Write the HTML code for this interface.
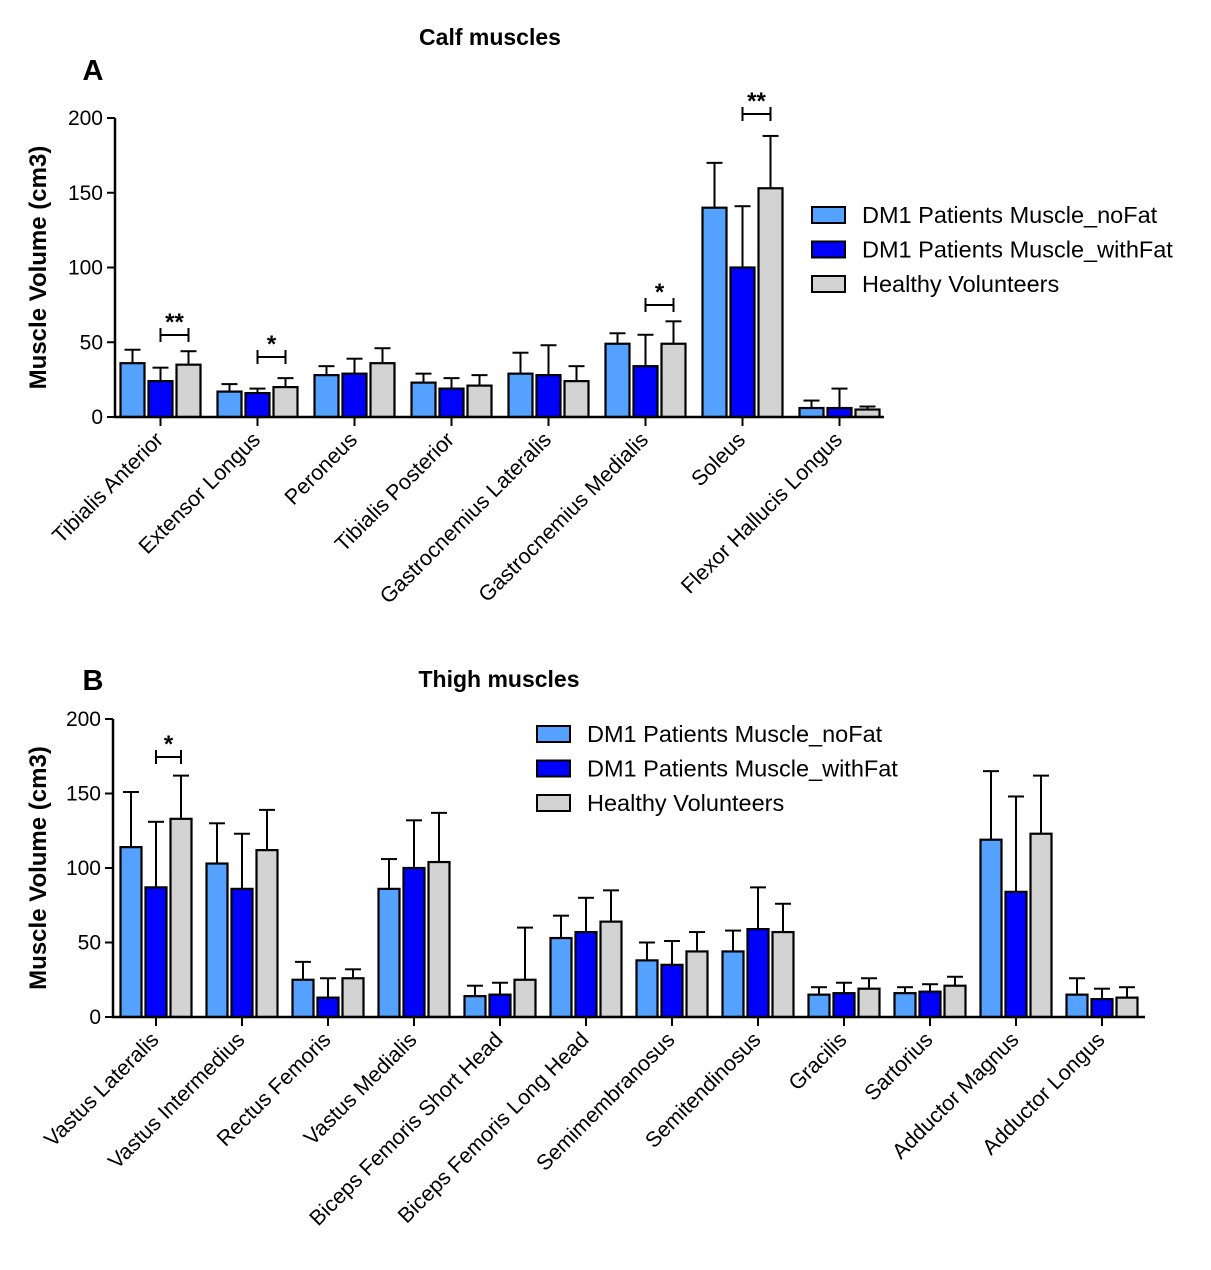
<!DOCTYPE html>
<html><head><meta charset="utf-8"><style>
body{margin:0;background:#fff}
svg{display:block;font-family:"Liberation Sans",Arial,sans-serif}
</style></head><body>
<svg id="c" width="1211" height="1270" viewBox="0 0 1211 1270">
<text x="490" y="45" text-anchor="middle" font-size="23" font-weight="bold">Calf muscles</text>
<text x="93" y="80" text-anchor="middle" font-size="29" font-weight="bold">A</text>
<text x="499" y="687" text-anchor="middle" font-size="23" font-weight="bold">Thigh muscles</text>
<text x="93" y="690" text-anchor="middle" font-size="29" font-weight="bold">B</text>
<g id="gA"></g><g id="gB"></g>
</svg>
<script>
const catsA=["Tibialis Anterior","Extensor Longus","Peroneus","Tibialis Posterior","Gastrocnemius Lateralis","Gastrocnemius Medialis","Soleus","Flexor Hallucis Longus"];
const noFatA=[36,17,28,23,29,49,140,6];
const noFatErrA=[9,5,6,6,14,7,30,5];
const withFatA=[24,16,29,19,28,34,100,6];
const withFatErrA=[9,3,10,7,20,21,41,13];
const healthyA=[35,20,36,21,24,49,153,5];
const healthyErrA=[9,6,10,7,10,15,35,2];
const catsB=["Vastus Lateralis","Vastus Intermedius","Rectus Femoris","Vastus Medialis","Biceps Femoris Short Head","Biceps Femoris Long Head","Semimembranosus","Semitendinosus","Gracilis","Sartorius","Adductor Magnus","Adductor Longus"];
const noFatB=[114,103,25,86,14,53,38,44,15,16,119,15];
const noFatErrB=[37,27,12,20,7,15,12,14,5,4,46,11];
const withFatB=[87,86,13,100,15,57,35,59,16,17,84,12];
const withFatErrB=[44,37,13,32,8,23,16,28,7,5,64,7];
const healthyB=[133,112,26,104,25,64,44,57,19,21,123,13];
const healthyErrB=[29,27,6,33,35,21,13,19,7,6,39,7];
const yTicks=[0,50,100,150,200];
const seriesNames=["DM1 Patients Muscle_noFat","DM1 Patients Muscle_withFat","Healthy Volunteers"];
const colors=["#55a1ff","#0000ff","#d3d3d3"];
const NS="http://www.w3.org/2000/svg";
function mk(p,tag,at,txt){const e=document.createElementNS(NS,tag);for(const k in at)e.setAttribute(k,at[k]);if(txt!=null)e.textContent=txt;p.appendChild(e);return e;}
function panel(g,o){
  const y=v=>o.base-v*(o.base-o.top)/200;
  const gx=i=>o.x0+o.off+o.gw*(i+0.5);
  const bx=(i,s)=>gx(i)+(s-1)*o.pitch;
  const ser=[[o.a,o.ae],[o.b,o.be],[o.c,o.ce]];
  o.cats.forEach((c,i)=>{
    ser.forEach((sd,s)=>{
      const v=sd[0][i],e=sd[1][i],cx=bx(i,s);
      const ln=mk(g,"line",{x1:cx,x2:cx,y1:y(v),y2:y(v+e),stroke:"#000","stroke-width":2});
      
      
      const cap=mk(g,"line",{x1:cx-8,x2:cx+8,y1:y(v+e),y2:y(v+e),stroke:"#000","stroke-width":2});
      
      
      const r=mk(g,"rect",{x:cx-o.bw/2,y:y(v),width:o.bw,height:y(0)-y(v),fill:colors[s],stroke:"#000","stroke-width":2.2});
      
      
    });
    const tk=mk(g,"line",{x1:gx(i),x2:gx(i),y1:o.base,y2:o.base+9,stroke:"#000","stroke-width":2});
    
    
    const lx=gx(i)+4,ly=o.base+24;
    const t=mk(g,"text",{x:lx,y:ly,"text-anchor":"end","font-size":21.5,transform:`rotate(-45 ${lx} ${ly})`},c);
    
    
  });
  const ax=mk(g,"path",{d:`M${o.x0} ${o.top}V${o.base}H${o.x1}`,fill:"none",stroke:"#000","stroke-width":2.5});
  
  
  yTicks.forEach(v=>{
    const l=mk(g,"line",{x1:o.x0-8,x2:o.x0,y1:y(v),y2:y(v),stroke:"#000","stroke-width":2});
    
    
    const t=mk(g,"text",{x:o.x0-12,y:y(v)+7,"text-anchor":"end","font-size":21},v);
    
    
  });
  const yt=mk(g,"text",{x:46,y:(o.top+o.base)/2,"text-anchor":"middle","font-size":24,"font-weight":"bold",transform:`rotate(-90 46 ${(o.top+o.base)/2})`},o.ytitle);
  
  
  o.sig.forEach(([i,by,star])=>{
    const x1=bx(i,1),x2=bx(i,2);
    const p=mk(g,"path",{d:`M${x1} ${by-7}V${by+7}M${x1} ${by}H${x2}M${x2} ${by-7}V${by+7}`,stroke:"#000","stroke-width":2,fill:"none"});
    
    
    const t=mk(g,"text",{x:(x1+x2)/2,y:by-5,"text-anchor":"middle","font-size":24,"font-weight":"bold"},star);
    
    
  });
  seriesNames.forEach((n,s)=>{
    const ly=o.ly+s*34.5;
    const r=mk(g,"rect",{x:o.lx,y:ly-8,width:33,height:16,fill:colors[s],stroke:"#000","stroke-width":2});
    
    
    const t=mk(g,"text",{x:o.lx+50,y:ly+8,"font-size":23.5},n);
    
    
  });
}
panel(document.getElementById("gA"),{cats:catsA,a:noFatA,ae:noFatErrA,b:withFatA,be:withFatErrA,c:healthyA,ce:healthyErrA,
  x0:115,off:-3,x1:884,gw:97,pitch:28,bw:24,top:118,base:417,ytitle:"Muscle Volume (cm3)",
  sig:[[0,335,"**"],[1,357,"*"],[5,305,"*"],[6,114,"**"]],lx:812,ly:215});
panel(document.getElementById("gB"),{cats:catsB,a:noFatB,ae:noFatErrB,b:withFatB,be:withFatErrB,c:healthyB,ce:healthyErrB,
  x0:113,off:0,x1:1145,gw:86,pitch:25,bw:21,top:719,base:1017,ytitle:"Muscle Volume  (cm3)",
  sig:[[0,757,"*"]],lx:537,ly:734});
</script>
</body></html>
